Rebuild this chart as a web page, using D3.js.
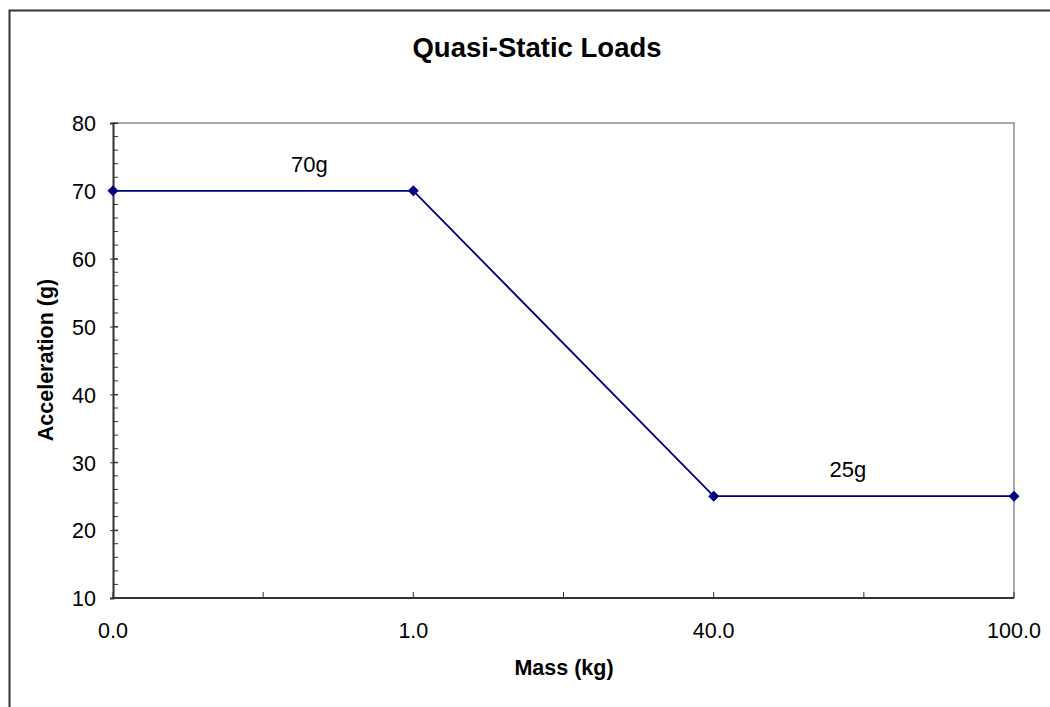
<!DOCTYPE html>
<html><head><meta charset="utf-8">
<script src="https://cdn.jsdelivr.net/npm/d3@7"></script>
<style>body{margin:0;background:#fff}svg{display:block;font-family:"Liberation Sans",Arial,sans-serif}</style>
</head><body>
<script>
const categories = ["0.0","1.0","40.0","100.0"];
const values = [70,70,25,25];
const yTicks = [10,20,30,40,50,60,70,80];
const annotations = [{text:"70g", cat:0.654, y:72.8},{text:"25g", cat:2.447, y:27.8}];

const W=1050,H=707;
const svg=d3.select("body").append("svg").attr("width",W).attr("height",H);
// outer chart border
svg.append("rect").attr("x",9.5).attr("y",10.5).attr("width",1200).attr("height",1000)
  .attr("fill","none").attr("stroke","#333").attr("stroke-width",2);

const L=113,R=1014,T=123,B=598;
const x=d3.scalePoint().domain(categories).range([L,R]);
const y=d3.scaleLinear().domain([10,80]).range([B,T]);

// plot border top/right gray
svg.append("path").attr("d",`M${L},${T}H${R}V${B}`).attr("fill","none").attr("stroke","#8c8c8c").attr("stroke-width",1.5);

// y minor ticks
const minor=d3.range(10,81,2);
svg.append("g").selectAll("line").data(minor).join("line")
  .attr("x1",L).attr("x2",L+5).attr("y1",d=>y(d)).attr("y2",d=>y(d)).attr("stroke","#333").attr("stroke-width",1);
// y axis
const ya=svg.append("g").attr("transform",`translate(${L},0)`)
  .call(d3.axisLeft(y).tickValues(yTicks).tickSize(3).tickPadding(18).tickFormat(d3.format("d")));
ya.select(".domain").attr("stroke","#333").attr("stroke-width",2);
ya.selectAll(".tick line").attr("stroke","#333").attr("x2",-3).attr("x1",5);
ya.selectAll("text").attr("font-size",21.5).attr("fill","#000").attr("x",-17).attr("dy","0.36em").attr("font-family","Liberation Sans, Arial, sans-serif");

// x axis
const step=x.step();
const xt=[];
categories.forEach((c,i)=>{xt.push(x(c)); if(i<categories.length-1) xt.push(x(c)+step/2);});
svg.append("g").selectAll("line").data(xt).join("line")
  .attr("x1",d=>d).attr("x2",d=>d).attr("y1",B).attr("y2",B-6).attr("stroke","#333").attr("stroke-width",1);
svg.append("line").attr("x1",L-1).attr("x2",R).attr("y1",B).attr("y2",B).attr("stroke","#333").attr("stroke-width",2);
svg.append("g").selectAll("text").data(categories).join("text")
  .attr("x",d=>x(d)).attr("y",B+40).attr("text-anchor","middle").attr("font-size",21.5).text(d=>d);

// line
const data=categories.map((c,i)=>({c,v:values[i]}));
svg.append("path").datum(data).attr("fill","none").attr("stroke","#000080").attr("stroke-width",1.8)
  .attr("d",d3.line().x(d=>x(d.c)).y(d=>y(d.v)));
svg.append("g").selectAll("path").data(data).join("path")
  .attr("transform",d=>`translate(${x(d.c)},${y(d.v)})`)
  .attr("d","M0,-5.5L5.5,0L0,5.5L-5.5,0Z").attr("fill","#000080");

// annotations
svg.append("g").selectAll("text").data(annotations).join("text")
  .attr("x",d=>L+d.cat*step).attr("y",d=>y(d.y)).attr("text-anchor","middle").attr("font-size",22).text(d=>d.text);

// titles
svg.append("text").attr("x",537).attr("y",57).attr("text-anchor","middle").attr("font-size",27.5).attr("font-weight","bold").text("Quasi-Static Loads");
svg.append("text").attr("x",564).attr("y",675).attr("text-anchor","middle").attr("font-size",21.5).attr("font-weight","bold").text("Mass (kg)");
svg.append("text").attr("transform","translate(53,360) rotate(-90)").attr("text-anchor","middle").attr("font-size",21.5).attr("font-weight","bold").text("Acceleration (g)");
</script>
</body></html>
